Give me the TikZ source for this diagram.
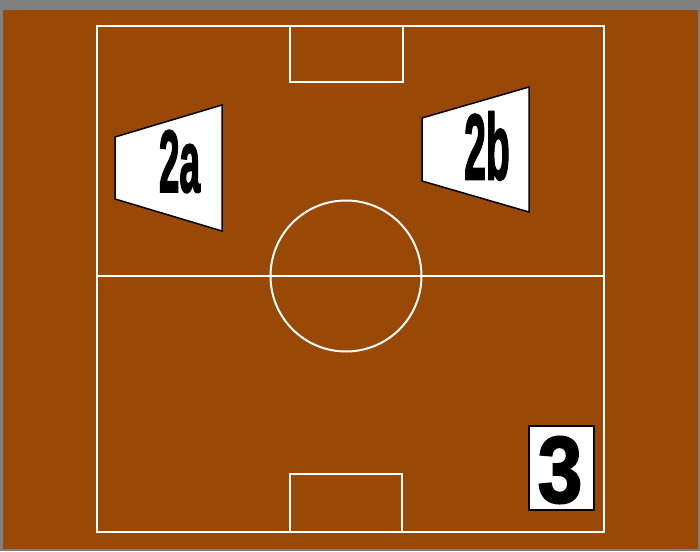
\documentclass[tikz,border=0pt]{standalone}
\usepackage{fontspec}
\setmainfont{Liberation Sans}
\newfontfamily\heavyfont[BoldFeatures={FakeBold=2.5}]{Liberation Sans}
\definecolor{pitch}{RGB}{153,72,6}
\definecolor{frame}{RGB}{128,128,128}
\begin{document}
\begin{tikzpicture}[x=1pt,y=-1pt,
  fieldline/.style={draw=white,line width=2pt},
  board/.style={draw=black,fill=white,line width=1.5pt,line join=miter},
  lbl/.style={inner sep=0pt,anchor=center,text=black}]
\useasboundingbox (0,0) rectangle (700,551);
\fill[frame] (0,0) rectangle (700,551);
\fill[pitch] (3,10) rectangle (698,549);
% field
\draw[fieldline] (97,26) rectangle (604,532);
\draw[fieldline] (97,276) -- (604,276);
\draw[fieldline] (346,276) circle (75.5);
\draw[fieldline] (290,26) rectangle (403,82);
\draw[fieldline] (290,474) rectangle (402,532);
% boards
\draw[board] (115,137) -- (222,105) -- (222,231) -- (115,199) -- cycle;
\draw[board] (422,118) -- (529,87) -- (529,212) -- (422,181) -- cycle;
\draw[board] (529,426) rectangle (594,510);
\node[lbl] (a) at (179.5,161.5) {\scalebox{0.42}[1]{\fontsize{88}{88}\heavyfont\bfseries 2a}};
\node[lbl] (b) at (487,146) {\scalebox{0.42}[1]{\fontsize{93}{93}\heavyfont\bfseries 2b}};
\node[lbl] (c) at (560,470) {\scalebox{0.85}[1]{\fontsize{94}{94}\heavyfont\bfseries 3}};
\end{tikzpicture}
\end{document}
